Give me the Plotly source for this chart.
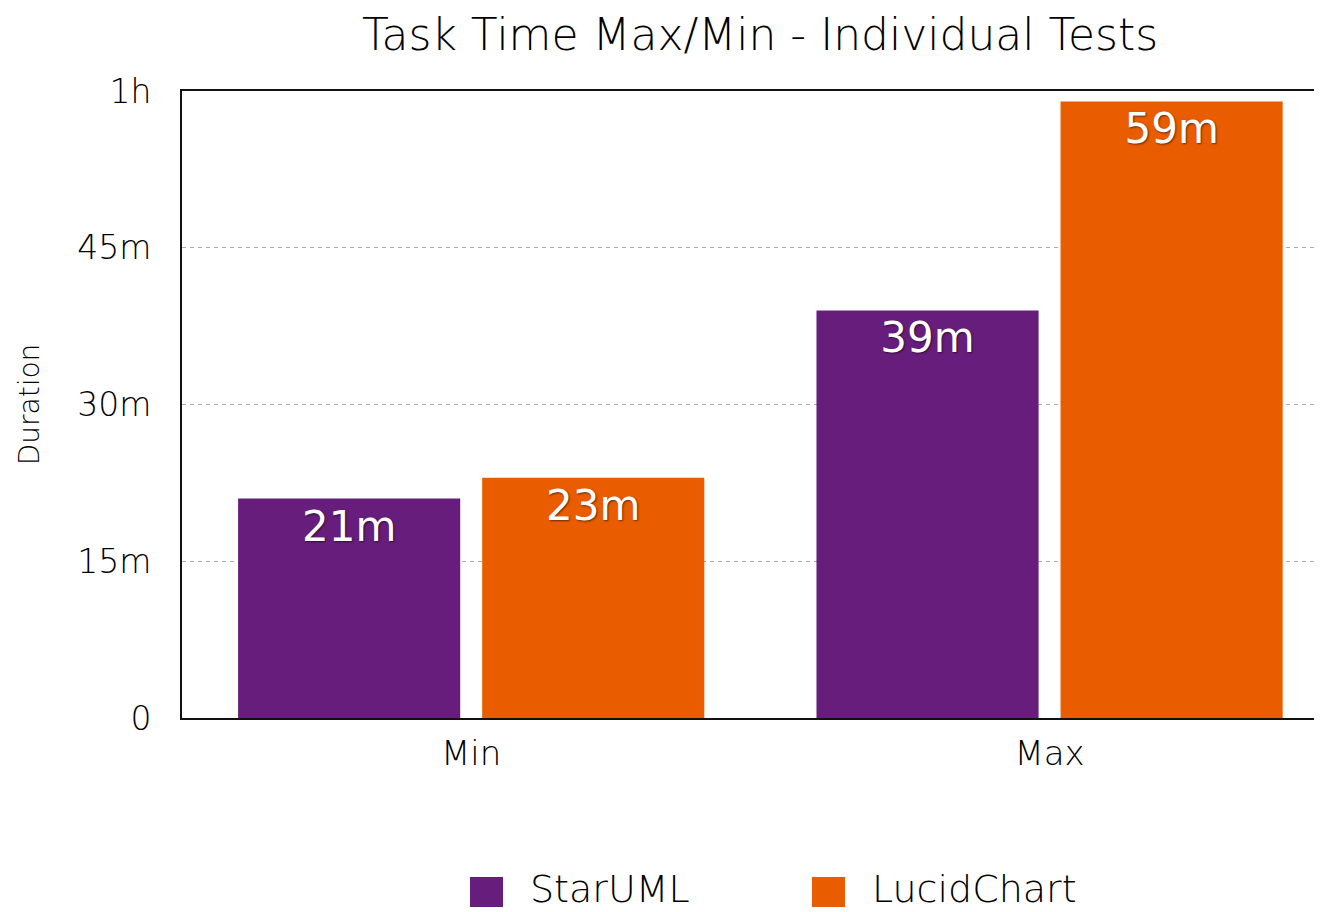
import plotly.graph_objects as go

categories = ["Min", "Max"]
series_names = ["StarUML", "LucidChart"]
staruml = [21, 39]
lucidchart = [23, 59]
staruml_labels = ["21m", "39m"]
lucid_labels = ["23m", "59m"]
tick_vals = [0, 15, 30, 45, 60]
tick_text = ["0", "15m", "30m", "45m", "1h"]

COLORS = ["#671d7b", "#e95c00"]
FONT = "DejaVu Sans"
TXT = "#000000"
SHADOW = "1px 1px 2px rgba(0,0,0,0.55)"
LIGHT = 300

# page body has an 8px margin, so the figure is 8px smaller than the window
W, H = 1314, 904

fig = go.Figure()
for name, vals, labels, col in zip(series_names, [staruml, lucidchart],
                                   [staruml_labels, lucid_labels], COLORS):
    fig.add_trace(go.Bar(
        name=name, x=categories, y=vals, text=labels,
        marker=dict(color=col, line=dict(width=0)),
        textposition="inside", insidetextanchor="end", textangle=0,
        textfont=dict(color="white", size=42, family=FONT, shadow=SHADOW),
        showlegend=False,
    ))

# legend drawn in paper coordinates (large square swatches)
shapes = []
annotations = []
legend_items = [(0.2526, 0.2816, 0.3035), (0.5526, 0.5816, 0.6035)]
for (x0, x1, xt), name, col in zip(legend_items, series_names, COLORS):
    shapes.append(dict(type="rect", xref="paper", yref="paper", x0=x0, x1=x1,
                       y0=-0.3014, y1=-0.2536, fillcolor=col, line=dict(width=0)))
    annotations.append(dict(text=name, xref="paper", yref="paper", x=xt, y=-0.2727,
                            xanchor="left", yanchor="middle", showarrow=False,
                            font=dict(family=FONT, size=38, color=TXT, weight=LIGHT)))

fig.update_layout(
    width=W, height=H,
    paper_bgcolor="white", plot_bgcolor="white",
    margin=dict(l=174, r=0, t=83, b=194),
    barmode="group", bargap=0.156, bargroupgap=0.09,
    title=dict(text="Task Time Max/Min - Individual Tests", x=752 / W,
               xanchor="center", y=1 - 27 / H, yanchor="middle",
               font=dict(family=FONT, size=44, color=TXT, weight=LIGHT)),
    font=dict(family=FONT, color=TXT),
    showlegend=False,
    shapes=shapes, annotations=annotations,
    uniformtext=dict(mode="show", minsize=42),
)
fig.update_xaxes(
    range=[-0.5, 1.471], showline=True, linecolor="#111", linewidth=2, mirror=True,
    ticks="", tickfont=dict(size=34, color=TXT, weight=LIGHT), ticklabelstandoff=4,
    showgrid=False, fixedrange=True, automargin=False,
)
fig.update_yaxes(
    range=[0, 60], tickvals=tick_vals, ticktext=tick_text,
    showline=True, linecolor="#111", linewidth=2,
    showgrid=True, gridcolor="#aaaaaa", griddash="4px,4px", gridwidth=1,
    ticks="", tickfont=dict(size=33, color=TXT, weight=LIGHT), ticklabelstandoff=22,
    title=dict(text="Duration", font=dict(size=28, color=TXT, weight=LIGHT), standoff=29),
    zeroline=False, automargin=False,
)
fig.write_html("out.html")
